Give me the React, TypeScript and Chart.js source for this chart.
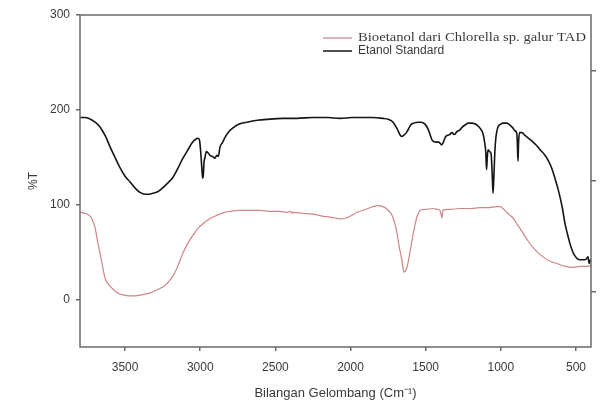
import React, { useEffect, useRef } from "react";
import { Chart, registerables } from "chart.js";

Chart.register(...registerables);

// Etanol Standard (black)
const etanolWn = [3800,3770,3740,3700,3667,3630,3600,3567,3534,3500,3467,3430,3401,3367,3340,3314,3280,3248,3215,3181,3150,3115,3085,3055,3030,3015,3005,2998,2990,2984,2980,2975,2968,2960,2950,2935,2920,2902,2890,2880,2868,2850,2835,2810,2782,2740,2689,2620,2556,2450,2356,2250,2150,2070,1990,1937,1860,1784,1750,1717,1690,1668,1658,1640,1624,1600,1580,1551,1530,1505,1485,1471,1460,1451,1430,1415,1405,1395,1385,1370,1358,1340,1325,1310,1292,1272,1255,1238,1215,1192,1170,1152,1135,1119,1110,1100,1095,1090,1085,1075,1065,1058,1052,1046,1040,1032,1019,1000,986,960,939,920,906,895,890,886,882,876,860,839,815,792,765,739,710,686,660,640,620,606,590,573,555,540,523,507,490,473,455,440,430,420,412,405,400];
const etanolT = [192,192,191,187,182,172,161,150,139,130,124,117,113,111,111,112,114,118,123,129,138,149,157,165,169,170,168,158,140,128,130,145,150,156,155,152,151,149,152,151,161,166,171,177,181,185,187,189,190,191,191,192,192,191,192,192,192,191,190,187,180,173,172,174,177,184,186,187,187,185,180,174,169,167,166,166,165,163,165,171,173,174,176,174,177,179,182,184,186,186,185,183,180,175,168,155,137,150,158,156,154,135,112,130,155,172,182,185,186,186,184,181,178,176,165,146,165,176,176,173,170,167,163,158,153,147,138,128,117,108,96,80,68,59,51,46,43,42,42,42,43,45,38,42,40];

// Bioetanol dari Chlorella sp. galur TAD (pink)
const bioWn = [3800,3770,3740,3720,3700,3685,3667,3650,3634,3610,3587,3550,3514,3470,3434,3390,3334,3290,3234,3205,3181,3150,3115,3080,3048,3015,2982,2940,2888,2840,2802,2740,2689,2600,2540,2469,2420,2400,2390,2383,2320,2250,2190,2137,2100,2070,2030,1990,1957,1900,1851,1810,1784,1755,1724,1705,1691,1675,1658,1650,1644,1636,1624,1608,1591,1575,1558,1545,1538,1500,1451,1420,1405,1398,1391,1385,1340,1272,1200,1139,1080,1025,1005,986,960,940,919,890,852,820,786,750,719,680,626,570,520,470,427,400];
const bioT = [92,91,89,85,76,63,49,35,23,16,12,7,5,4,4,5,7,10,15,20,25,35,49,60,68,75,80,85,89,92,93,94,94,94,93,93,92,93,91,92,91,90,88,87,86,85,86,89,92,95,98,99,98,95,89,80,70,55,41,32,29,30,34,47,62,76,87,92,94,95,96,95,94,90,86,94,95,96,96,97,97,98,98,96,92,89,86,79,70,62,55,49,45,41,38,35,34,35,35,36];

const xTickValues = [3500, 3000, 2500, 2000, 1500, 1000, 500];
const yTickValues = [0, 100, 200, 300];
const rightTickValues = [1, 3, 5];

const legendLabels = ["Bioetanol dari Chlorella sp. galur TAD", "Etanol Standard"];
const xTitle = "Bilangan Gelombang (Cm\u207B\u00B9)";
const yTitle = "%T";

const AXIS_COLOR = "#6a6a6a";
const TEXT_COLOR = "#3a3a3a";
const PINK = "#cf8585";
const BLACK = "#151515";

const framePlugin = {
  id: "frame",
  afterDraw(chart: any) {
    const { ctx, chartArea } = chart;
    ctx.save();
    ctx.strokeStyle = AXIS_COLOR;
    ctx.lineWidth = 1.5;
    ctx.strokeRect(chartArea.left, chartArea.top, chartArea.right - chartArea.left, chartArea.bottom - chartArea.top);
    // legend
    const lx0 = 323, lx1 = 352, tx = 358;
    const rows = [
      { y: 38, color: PINK, font: "12.5px 'Liberation Serif', serif", width: 1.2, target: 228 },
      { y: 51, color: BLACK, font: "12px 'Liberation Sans', Arial, sans-serif", width: 1.5, target: 0 },
    ];
    rows.forEach((r, i) => {
      ctx.strokeStyle = r.color;
      ctx.lineWidth = r.width;
      ctx.beginPath();
      ctx.moveTo(lx0, r.y);
      ctx.lineTo(lx1, r.y);
      ctx.stroke();
      ctx.fillStyle = TEXT_COLOR;
      ctx.font = r.font;
      ctx.textBaseline = "middle";
      ctx.textAlign = "left";
      const w = ctx.measureText(legendLabels[i]).width;
      if (r.target && w > 0) {
        ctx.save();
        ctx.translate(tx, r.y);
        ctx.scale(r.target / w, 1);
        ctx.fillText(legendLabels[i], 0, 0);
        ctx.restore();
      } else {
        ctx.fillText(legendLabels[i], tx, r.y);
      }
    });
    ctx.restore();
  },
};

export default function App() {
  const ref = useRef<HTMLCanvasElement>(null);
  useEffect(() => {
    document.body.style.margin = "0";
    const c = ref.current!;
    const chart = new Chart(c, {
      type: "line",
      data: {
        datasets: [
          {
            label: legendLabels[0],
            data: bioWn.map((w, i) => ({ x: w, y: bioT[i] })),
            borderColor: PINK,
            borderWidth: 1.2,
            pointRadius: 0,
            cubicInterpolationMode: "monotone",
            yAxisID: "y",
          },
          {
            label: legendLabels[1],
            data: etanolWn.map((w, i) => ({ x: w, y: etanolT[i] })),
            borderColor: BLACK,
            borderWidth: 1.6,
            pointRadius: 0,
            cubicInterpolationMode: "monotone",
            yAxisID: "y",
          },
        ],
      },
      options: {
        animation: false,
        responsive: false,
        maintainAspectRatio: false,
        layout: { padding: { top: 15, left: 0, right: 0, bottom: 0 } },
        plugins: { legend: { display: false }, tooltip: { enabled: false } },
        scales: {
          x: {
            type: "linear",
            reverse: true,
            min: 400,
            max: 3800,
            afterBuildTicks: (s: any) => { s.ticks = xTickValues.map((v) => ({ value: v })); },
            afterFit: (s: any) => { s.height = 59; },
            ticks: { color: TEXT_COLOR, font: { family: "'Liberation Sans', Arial, sans-serif", size: 12 }, padding: 9, maxRotation: 0, callback: (v: any) => String(v) },
            grid: { drawOnChartArea: false, drawTicks: true, tickLength: 4, color: AXIS_COLOR, lineWidth: 1.5 },
            border: { display: false },
            title: { display: true, text: xTitle, color: TEXT_COLOR, font: { family: "'Liberation Sans', Arial, sans-serif", size: 13 }, padding: { top: 0, bottom: 5 } },
          },
          y: {
            type: "linear",
            position: "left",
            min: -50,
            max: 300,
            afterBuildTicks: (s: any) => { s.ticks = yTickValues.map((v) => ({ value: v })); },
            afterFit: (s: any) => { s.width = 80; },
            ticks: { color: TEXT_COLOR, font: { family: "'Liberation Sans', Arial, sans-serif", size: 12 }, padding: 6, callback: (v: any) => String(v) },
            grid: { drawOnChartArea: false, drawTicks: true, tickLength: 4, color: AXIS_COLOR, lineWidth: 1.5 },
            border: { display: false },
            title: { display: true, text: yTitle, color: TEXT_COLOR, font: { family: "'Liberation Sans', Arial, sans-serif", size: 12 }, padding: { top: 26, bottom: 0 } },
          },
          y2: {
            type: "linear",
            position: "right",
            min: 0,
            max: 6,
            afterBuildTicks: (s: any) => { s.ticks = rightTickValues.map((v) => ({ value: v })); },
            afterFit: (s: any) => { s.width = 9; },
            ticks: { display: false },
            grid: { drawOnChartArea: false, drawTicks: true, tickLength: 5, color: AXIS_COLOR, lineWidth: 1.5 },
            border: { display: false },
          },
        },
      },
      plugins: [framePlugin],
    });
    return () => chart.destroy();
  }, []);
  return (
    <div style={{ position: "absolute", left: 0, top: 0, width: 600, height: 406 }}>
      <canvas ref={ref} width={600} height={406} style={{ width: 600, height: 406, display: "block" }} />
    </div>
  );
}
